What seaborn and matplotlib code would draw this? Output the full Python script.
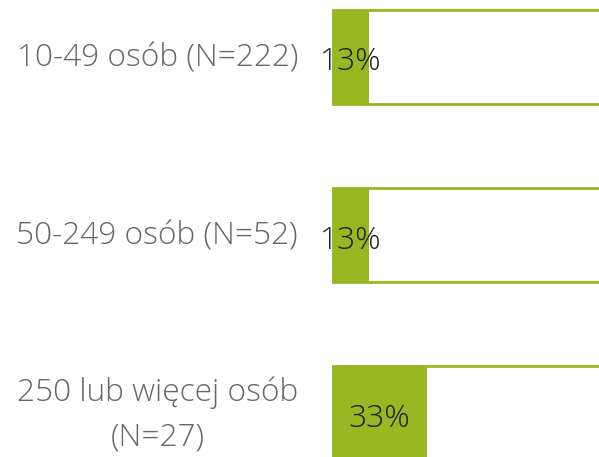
import matplotlib
matplotlib.use("Agg")
import matplotlib.pyplot as plt
import matplotlib.transforms as mtransforms
import seaborn as sns
import pandas as pd

categories = ["10-49 osób (N=222)", "50-249 osób (N=52)", "250 lub więcej osób\n(N=27)"]
values = [13, 13, 33]
full = [100, 100, 100]
value_labels = ["13%", "13%", "33%"]

GREEN = "#97B723"
LABEL_GRAY = "#676767"
TEXT_DARK = "#1E1E1E"
FS = 22.8

sns.set_theme(style="white")
plt.rcParams["font.family"] = ["Open Sans", "DejaVu Sans"]

df = pd.DataFrame({"cat": categories, "value": values, "full": full})

fig = plt.figure(figsize=(5.99, 4.57), dpi=100)
ax = fig.add_axes([332 / 599, 0, 288 / 599, 1])

sns.barplot(data=df, y="cat", x="full", color="white", edgecolor=GREEN,
            linewidth=2, width=0.53, ax=ax, saturation=1)
sns.barplot(data=df, y="cat", x="value", color=GREEN, edgecolor=GREEN,
            linewidth=0, width=0.53, ax=ax, saturation=1)

ax.set_xlim(0, 100)
ax.set_ylim(2.247, -0.320)

PX = 1 / 178.0  # data units per pixel vertically
for i, (v, lab) in enumerate(zip(values, value_labels)):
    ax.text(v / 2, i + 13.5 * PX, lab, ha="center", va="baseline", fontsize=FS,
            fontweight="light", color=TEXT_DARK)

trans = mtransforms.blended_transform_factory(ax.transAxes, ax.transData)
for i, cat in enumerate(categories):
    if "\n" in cat:
        y = i + 32 * PX
    else:
        y = i + 9.5 * PX
    ax.text(-34 / 288, y, cat, transform=trans, ha="right", va="baseline",
            multialignment="center", linespacing=1.5, fontsize=FS,
            fontweight="light", color=LABEL_GRAY)

ax.set_xlabel("")
ax.set_ylabel("")
ax.set_xticks([])
ax.set_yticks([])
for s in ax.spines.values():
    s.set_visible(False)

fig.savefig("out.png", dpi=100)
